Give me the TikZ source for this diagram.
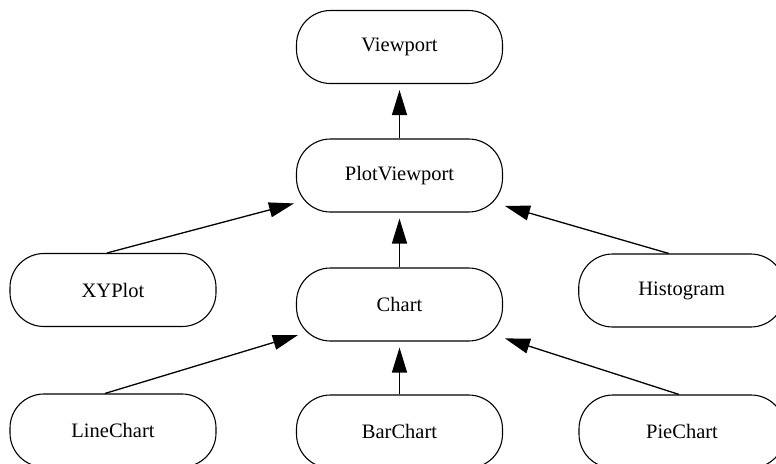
\documentclass[tikz,border=0pt]{standalone}
\usepackage{fontspec}
\setmainfont{Liberation Serif}
\usetikzlibrary{arrows.meta}
\begin{document}
\begin{tikzpicture}[x=1pt,y=-1pt,
  cls/.style={draw, line width=1.1pt, rounded corners=34pt, minimum width=206pt,
    minimum height=73pt, inner sep=0pt, font=\fontsize{20.5pt}{24pt}\selectfont},
  edge/.style={line width=1.3pt, -{Triangle[length=25pt,width=15pt]}},
  vedge/.style={edge, shorten >=6pt}]
\useasboundingbox (0,0) rectangle (776,463);
\node[cls] (vp) at (399.5,47) {Viewport};
\node[cls] (pv) at (399.5,175.5) {PlotViewport};
\node[cls] (xy) at (113,290) {XYPlot};
\node[cls] (ch) at (399.5,304.5) {Chart};
\node[cls] (hi) at (681.7,290.5) {Histogram};
\node[cls] (lc) at (113,430.5) {LineChart};
\node[cls] (bc) at (399.5,431.5) {BarChart};
\node[cls] (pc) at (682,431.5) {PieChart};
\draw[vedge] (pv.north) -- (vp.south);
\draw[vedge] (ch.north) -- (pv.south);
\draw[vedge] (bc.north) -- (ch.south);
\draw[edge, shorten >=2pt] ([xshift=-6pt]xy.north) -- (pv);
\draw[edge, shorten >=2pt] ([xshift=-13pt]hi.north) -- (pv);
\draw[edge, shorten >=-2pt] ([xshift=-8pt]lc.north) -- (ch);
\draw[edge, shorten >=2pt] ([xshift=-3pt]pc.north) -- (ch);
\end{tikzpicture}
\end{document}
